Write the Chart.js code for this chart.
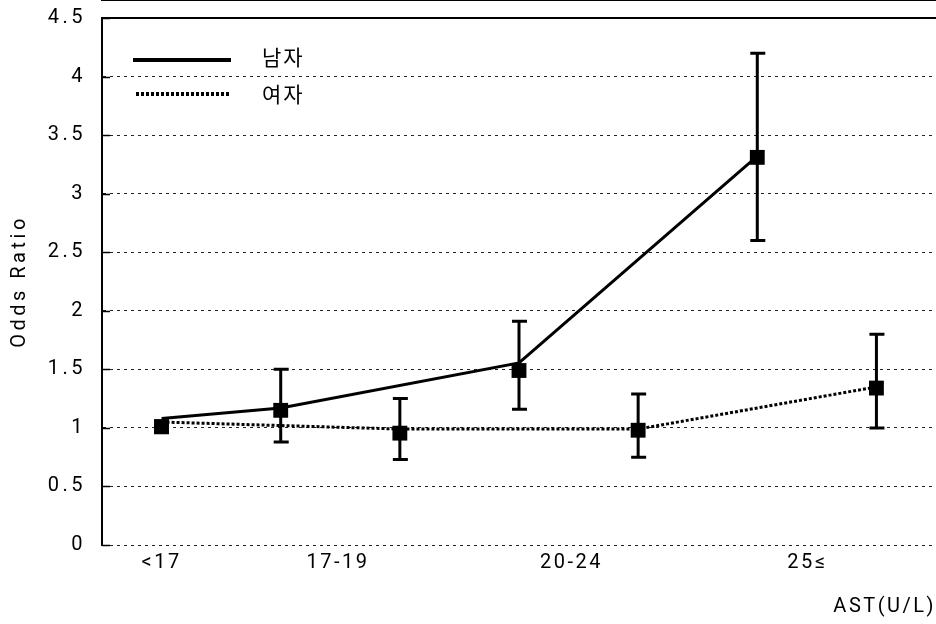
<!DOCTYPE html>
<html>
<head>
<meta charset="utf-8">
<script src="https://cdn.jsdelivr.net/npm/chart.js@4.4.1/dist/chart.umd.min.js"></script>
<style>
  html, body { margin: 0; padding: 0; background: #fff; }
  #wrap { width: 936px; height: 624px; }
</style>
</head>
<body>
<div id="wrap"><canvas id="c" width="936" height="624"></canvas></div>
<script>
// AST groups and where their labels sit on the slot axis
const categories = ['<17', '17-19', '20-24', '25\u2264'];
const categoryTickPos = [0, 1.48, 3.44, 5.42];

// slot of each group on the x axis (men and women are staggered)
const maleX = [0, 1, 3, 5];
const femaleX = [0, 2, 4, 6];

// odds ratios with 95% confidence limits
const maleOR = [1.01, 1.15, 1.49, 3.31];
const maleLow = [null, 0.88, 1.16, 2.60];
const maleHigh = [null, 1.50, 1.91, 4.20];
const femaleOR = [1.01, 0.955, 0.98, 1.34];
const femaleLow = [null, 0.73, 0.75, 1.00];
const femaleHigh = [null, 1.25, 1.29, 1.80];

// connecting trend lines
const maleTrend = [1.08, 1.17, 1.555, 3.32];
const femaleTrend = [1.05, 0.99, 0.99, 1.35];

const yTicks = [0, 0.5, 1, 1.5, 2, 2.5, 3, 3.5, 4, 4.5];
const legendLabels = ['남자', '여자'];

const FONT = 'Roboto, "DejaVu Sans", sans-serif';
const pts = (xs, ys) => xs.map((x, i) => ({ x, y: ys[i] }));

const errorBars = {
  id: 'errorBars',
  afterDatasetsDraw(chart) {
    const { ctx, scales: { x, y } } = chart;
    ctx.save();
    ctx.strokeStyle = '#000';
    ctx.lineWidth = 3;
    ctx.setLineDash([]);
    const groups = [[maleX, maleLow, maleHigh], [femaleX, femaleLow, femaleHigh]];
    groups.forEach(([xs, lo, hi]) => {
      xs.forEach((xv, i) => {
        if (lo[i] == null) return;
        const px = x.getPixelForValue(xv);
        const pl = y.getPixelForValue(lo[i]);
        const ph = y.getPixelForValue(hi[i]);
        ctx.beginPath();
        ctx.moveTo(px, pl); ctx.lineTo(px, ph);
        ctx.moveTo(px - 7, pl); ctx.lineTo(px + 8, pl);
        ctx.moveTo(px - 7, ph); ctx.lineTo(px + 8, ph);
        ctx.stroke();
      });
    });
    ctx.restore();
  }
};

const frame = {
  id: 'frame',
  beforeDraw(chart) {
    // value-axis labels and title are set with wide tracking
    chart.ctx.letterSpacing = '3.5px';
  },
  beforeDatasetsDraw(chart) {
    chart.ctx.letterSpacing = '0px';
  },
  afterDatasetsDraw(chart) {
    // category labels and axis title are drawn after the series
    chart.ctx.letterSpacing = '2.5px';
  },
  afterDraw(chart) {
    const { ctx, chartArea, scales: { y } } = chart;
    ctx.save();
    ctx.letterSpacing = '0px';
    ctx.setLineDash([]);
    ctx.strokeStyle = '#000';
    // solid top edge
    ctx.lineWidth = 2;
    const top = y.getPixelForValue(4.5);
    ctx.beginPath();
    ctx.moveTo(chartArea.left, top); ctx.lineTo(chartArea.right, top);
    ctx.stroke();
    // short inner ticks on the value axis
    ctx.lineWidth = 1.5;
    y.ticks.forEach(t => {
      const py = Math.round(y.getPixelForValue(t.value)) + 0.5;
      ctx.beginPath();
      ctx.moveTo(chartArea.left, py); ctx.lineTo(chartArea.left + 8, py);
      ctx.stroke();
    });
    // legend
    ctx.lineWidth = 4;
    ctx.beginPath();
    ctx.moveTo(133, 60); ctx.lineTo(231, 60);
    ctx.stroke();
    ctx.setLineDash([3, 2]);
    ctx.beginPath();
    ctx.moveTo(136, 94); ctx.lineTo(230, 94);
    ctx.stroke();
    ctx.setLineDash([]);
    ctx.fillStyle = '#000';
    ctx.font = '21px "Noto Sans CJK KR", sans-serif';
    ctx.letterSpacing = '2px';
    ctx.textAlign = 'left';
    ctx.textBaseline = 'middle';
    ctx.fillText(legendLabels[0], 262, 57);
    ctx.fillText(legendLabels[1], 262, 94);
    ctx.restore();
  }
};

new Chart(document.getElementById('c'), {
  type: 'line',
  data: {
    datasets: [
      {
        label: legendLabels[0] + ' trend',
        data: pts(maleX, maleTrend),
        borderColor: '#000',
        borderWidth: 3,
        pointRadius: 0,
        tension: 0,
        fill: false
      },
      {
        label: legendLabels[1] + ' trend',
        data: pts(femaleX, femaleTrend),
        borderColor: '#000',
        borderWidth: 3,
        borderDash: [3, 2],
        pointRadius: 0,
        tension: 0,
        fill: false
      },
      {
        label: legendLabels[0],
        data: pts(maleX, maleOR),
        showLine: false,
        pointStyle: 'rect',
        pointRadius: 10.5,
        pointBackgroundColor: '#000',
        pointBorderColor: '#000',
        pointBorderWidth: 0
      },
      {
        label: legendLabels[1],
        data: pts(femaleX, femaleOR),
        showLine: false,
        pointStyle: 'rect',
        pointRadius: 10.5,
        pointBackgroundColor: '#000',
        pointBorderColor: '#000',
        pointBorderWidth: 0
      }
    ]
  },
  options: {
    responsive: false,
    animation: false,
    events: [],
    layout: { autoPadding: false, padding: { top: 18, right: 0, left: 0, bottom: 0 } },
    plugins: { legend: { display: false }, tooltip: { enabled: false } },
    scales: {
      x: {
        type: 'linear',
        min: -0.5,
        max: 6.5,
        afterBuildTicks: s => { s.ticks = categoryTickPos.map(v => ({ value: v })); },
        afterFit: s => {
          s.height = 79;
          s.paddingLeft = 0;
          s.paddingRight = 0;
        },
        ticks: {
          callback: (v, i) => categories[i],
          color: '#000',
          font: { family: FONT, size: 20 },
          padding: 6,
          maxRotation: 0,
          autoSkip: false,
          z: 1
        },
        grid: { display: false, drawTicks: false, z: 1 },
        border: { display: true, color: '#000', width: 2 },
        title: {
          display: true,
          text: 'AST(U/L)',
          align: 'end',
          color: '#000',
          font: { family: FONT, size: 20 },
          padding: { top: 0, bottom: 5 }
        }
      },
      y: {
        min: 0,
        max: 4.5,
        afterBuildTicks: s => { s.ticks = yTicks.map(v => ({ value: v })); },
        afterFit: s => {
          s.width = 102;
          s.paddingTop = 0;
          s.paddingBottom = 0;
        },
        ticks: {
          callback: v => String(v),
          color: '#000',
          font: { family: FONT, size: 20 },
          padding: 16
        },
        grid: { color: '#222', lineWidth: 1, drawTicks: false },
        border: { display: true, color: '#000', width: 2, dash: [3, 4] },
        title: {
          display: true,
          text: 'Odds Ratio',
          color: '#000',
          font: { family: FONT, size: 20 },
          padding: { top: 8, bottom: 0 }
        }
      }
    }
  },
  plugins: [errorBars, frame]
});
</script>
</body>
</html>
